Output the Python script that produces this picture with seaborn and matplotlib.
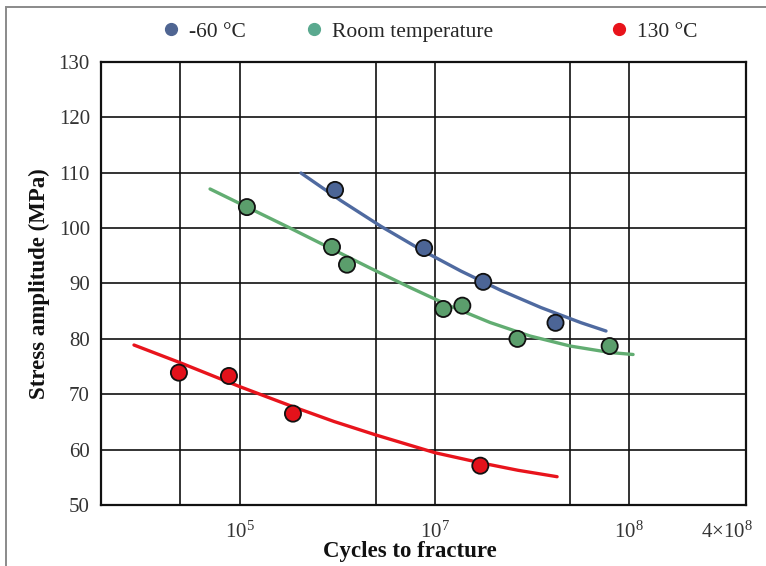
import numpy as np
import pandas as pd
import matplotlib
matplotlib.use("Agg")
import matplotlib.pyplot as plt
from matplotlib.lines import Line2D
from matplotlib.patches import Rectangle
from matplotlib.transforms import ScaledTranslation
import seaborn as sns

# ---------------- data ----------------
series_names = ["-60 °C", "Room temperature", "130 °C"]

neg60_cycles = [1.54e6, 8.84e6, 1.78e7, 4.19e7]
neg60_stress = [106.9, 96.4, 90.3, 82.9]

room_cycles = [1.22e5, 1.41e6, 2.17e6, 1.11e7, 1.39e7, 2.67e7, 7.96e7]
room_stress = [103.8, 96.6, 93.4, 85.4, 86.0, 80.0, 78.7]

hot_cycles = [4.93e4, 8.8e4, 4.59e5, 1.72e7]
hot_stress = [73.9, 73.3, 66.5, 57.1]

# trend curves
neg60_trend_cycles = [5.78e5, 1.83e6, 5.30e6, 8.52e6, 1.368e7, 2.198e7, 3.53e7, 5.67e7, 7.62e7]
neg60_trend_stress = [109.95, 104.95, 100.33, 96.09, 92.24, 88.75, 85.65, 82.92, 81.42]

room_trend_cycles = [7.07e4, 1.333e5, 4.21e5, 1.331e6, 4.21e6, 7.48e6, 1.201e7, 1.93e7,
                     3.10e7, 4.98e7, 7.99e7, 1.05e8]
room_trend_stress = [107.07, 103.54, 100.02, 96.41, 92.80, 89.28, 85.94, 82.96,
                     80.52, 78.71, 77.54, 77.18]

hot_trend_cycles = [2.93e4, 4.94e4, 1.0e5, 4.59e5, 1.494e6, 5.0e6, 1.006e7, 1.714e7, 2.687e7, 4.27e7]
hot_trend_stress = [78.89, 75.77, 71.36, 67.75, 65.08, 62.64, 59.44, 57.64, 56.27, 55.11]

x_tick_values = [1e5, 1e7, 1e8, 4e8]
x_tick_labels = [r"$10^5$", r"$10^7$", r"$10^8$", r"$4{\times}10^8$"]
x_grid_values = [5e4, 1e5, 5e6, 1e7, 5e7, 1e8]
y_ticks = [50, 60, 70, 80, 90, 100, 110, 120, 130]

# ---------------- styling ----------------
sns.set_theme(style="white")
plt.rcParams["font.family"] = ["Liberation Serif", "DejaVu Serif"]
plt.rcParams["mathtext.fontset"] = "custom"
plt.rcParams["mathtext.rm"] = "Liberation Serif"
plt.rcParams["mathtext.it"] = "Liberation Serif:italic"
plt.rcParams["mathtext.bf"] = "Liberation Serif:bold"

point_colors = {"-60 °C": "#4c6596", "Room temperature": "#5b9e6c", "130 °C": "#e3121b"}
line_colors = {"-60 °C": "#4f6aa0", "Room temperature": "#62ad72", "130 °C": "#e8141c"}
legend_colors = {"-60 °C": "#4f6592", "Room temperature": "#5aa98f", "130 °C": "#e8131b"}

pts = pd.concat([
    pd.DataFrame({"cycles": neg60_cycles, "stress": neg60_stress, "series": series_names[0]}),
    pd.DataFrame({"cycles": room_cycles, "stress": room_stress, "series": series_names[1]}),
    pd.DataFrame({"cycles": hot_cycles, "stress": hot_stress, "series": series_names[2]}),
], ignore_index=True)

trend = pd.concat([
    pd.DataFrame({"cycles": neg60_trend_cycles, "stress": neg60_trend_stress, "series": series_names[0]}),
    pd.DataFrame({"cycles": room_trend_cycles, "stress": room_trend_stress, "series": series_names[1]}),
    pd.DataFrame({"cycles": hot_trend_cycles, "stress": hot_trend_stress, "series": series_names[2]}),
], ignore_index=True)

# broken log axis (piecewise log scale as in the reference)
LOG_ANCH = np.log10([2e4, 1e5, 5e6, 4e8])
POS_ANCH = np.array([0.0, 139.0, 275.0, 645.0])


def fwd(x):
    x = np.asarray(x, dtype=float)
    return np.interp(np.log10(np.clip(x, 1.0, None)), LOG_ANCH, POS_ANCH)


def inv(p):
    return 10 ** np.interp(np.asarray(p, dtype=float), POS_ANCH, LOG_ANCH)


W, H = 766, 566
fig = plt.figure(figsize=(W / 100, H / 100), dpi=100)
fig.patch.set_facecolor("white")
ax = fig.add_axes([101 / W, (H - 505) / H, (746 - 101) / W, (505 - 62) / H])
ax.set_xscale("function", functions=(fwd, inv))

sns.lineplot(data=trend, x="cycles", y="stress", hue="series", palette=line_colors,
             sort=False, estimator=None, linewidth=2.4, legend=False, ax=ax, zorder=3)
sns.scatterplot(data=pts, x="cycles", y="stress", hue="series", palette=point_colors,
                s=135, edgecolor="#111111", linewidth=1.3, legend=False, ax=ax, zorder=4)

ax.set_xlim(2e4, 4e8)
ax.set_ylim(50, 130)
ax.set_yticks(y_ticks)
ax.xaxis.remove_overlapping_locs = False
ax.set_xticks(x_tick_values)
ax.set_xticklabels(x_tick_labels)
ax.set_xticks(x_grid_values, minor=True)
ax.tick_params(axis="x", which="both", length=0, pad=12, labelsize=15, colors="#333333")
ax.tick_params(axis="y", length=0, pad=8, labelsize=15, colors="#333333")
for lab in ax.get_xticklabels():
    if "times" in lab.get_text():
        lab.set_horizontalalignment("right")
        lab.set_transform(lab.get_transform() + ScaledTranslation(7 / 100, 0, fig.dpi_scale_trans))

ax.grid(False)
ax.xaxis.grid(True, which="minor", color="#111111", linewidth=1.2)
ax.xaxis.grid(False, which="major")
ax.yaxis.grid(True, which="major", color="#111111", linewidth=1.2)
ax.set_axisbelow(True)
for s in ax.spines.values():
    s.set_visible(True)
    s.set_color("#111111")
    s.set_linewidth(1.6)

ax.set_xlabel("Cycles to fracture", fontsize=16.5, fontweight="bold", color="#111111")
ax.xaxis.set_label_coords((410 - 101) / 645, -36 / 443)
ax.set_ylabel("Stress amplitude (MPa)", fontsize=16.5, fontweight="bold", color="#111111")
ax.yaxis.set_label_coords(-51 / 645, 0.5)

# legend items placed individually across the top
legend_x = [160 / W, 303 / W, 608 / W]
for name, lx in zip(series_names, legend_x):
    h = Line2D([], [], marker="o", linestyle="none", markersize=8.5,
               markerfacecolor=legend_colors[name], markeredgecolor=legend_colors[name])
    fig.legend([h], [name], loc="center left", bbox_to_anchor=(lx, 1 - 32 / H),
               frameon=False, fontsize=15.5, handletextpad=0.35, borderaxespad=0, borderpad=0,
               handlelength=1.0)

# outer frame line (top and left visible)
fig.patches.append(Rectangle((6 / W, -0.2), 1.2, (H - 7) / H + 0.2, transform=fig.transFigure,
                             fill=False, edgecolor="#8a8a8a", linewidth=1.4))

fig.savefig("out.png", dpi=100, facecolor="white")
